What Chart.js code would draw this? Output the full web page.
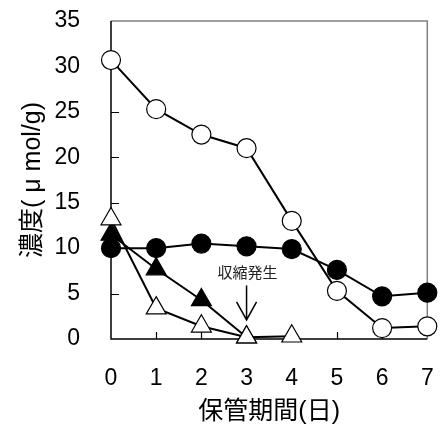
<!DOCTYPE html>
<html><head><meta charset="utf-8">
<script src="https://cdn.jsdelivr.net/npm/chart.js@4"></script>
<style>html,body{margin:0;padding:0;background:#fff}#wrap{width:440px;height:426px}</style>
</head><body><div id="wrap"><canvas id="c" width="440" height="426"></canvas></div>
<script>
const days = [0, 1, 2, 3, 4, 5, 6, 7];
const openCircle = [30.7, 25.3, 22.5, 21.0, 13.0, 5.3, 1.2, 1.4];
const filledCircle = [10.0, 10.0, 10.5, 10.2, 9.9, 7.6, 4.7, 5.1];
const filledTriangle = [11.5, 7.7, 4.3, 0.2];
const openTriangle = [13.2, 3.4, 1.4, 0.2, 0.3];
const yTickValues = [0, 5, 10, 15, 20, 25, 30, 35];
const xTickValues = [0, 1, 2, 3, 4, 5, 6, 7];
const yTitle = '濃度( μ mol/g)';
const xTitle = '保管期間(日)';
const note = { text: '収縮発生', x: 3, textY: 7.3, arrowFrom: 5.9, arrowTo: 2.1 };

const FONT = "'Liberation Sans', 'Noto Sans CJK JP', Arial, sans-serif";
const toPts = (arr) => arr.map((v, i) => ({ x: days[i], y: v }));

function ds(data, style, fill, radius) {
  return {
    data: toPts(data),
    borderColor: '#000', borderWidth: 2,
    pointStyle: style, pointRadius: radius,
    pointBackgroundColor: fill, pointBorderColor: '#000', pointBorderWidth: 1.2,
    tension: 0, clip: false
  };
}

const framePlugin = {
  id: 'frame',
  beforeDatasetsDraw(chart) {
    const { ctx, chartArea: a, scales } = chart;
    ctx.save();
    ctx.lineWidth = 1.5;
    ctx.strokeStyle = '#808080';
    ctx.beginPath();
    ctx.moveTo(a.left, a.top); ctx.lineTo(a.right, a.top); ctx.lineTo(a.right, a.bottom);
    ctx.stroke();
    ctx.strokeStyle = '#000';
    ctx.beginPath();
    ctx.moveTo(a.left, a.top); ctx.lineTo(a.left, a.bottom); ctx.lineTo(a.right, a.bottom);
    ctx.stroke();
    ctx.lineWidth = 1.2;
    ctx.beginPath();
    yTickValues.forEach(v => {
      if (v === 0 || v === 35) return;
      const y = Math.round(scales.y.getPixelForValue(v)) + 0.5;
      ctx.moveTo(a.left, y); ctx.lineTo(a.left + 8, y);
    });
    xTickValues.forEach(v => {
      if (v === 0 || v === 7) return;
      const x = Math.round(scales.x.getPixelForValue(v)) + 0.5;
      ctx.moveTo(x, a.bottom); ctx.lineTo(x, a.bottom - 7);
    });
    ctx.stroke();
    ctx.restore();
  },
  afterDatasetsDraw(chart) {
    const { ctx, scales } = chart;
    const x = scales.x.getPixelForValue(note.x);
    ctx.save();
    ctx.fillStyle = '#222';
    ctx.font = "15px 'Noto Sans CJK JP', sans-serif";
    ctx.textAlign = 'center';
    ctx.textBaseline = 'middle';
    ctx.fillText(note.text, x + 1, scales.y.getPixelForValue(note.textY));
    const y0 = scales.y.getPixelForValue(note.arrowFrom);
    const y1 = scales.y.getPixelForValue(note.arrowTo);
    ctx.strokeStyle = '#000';
    ctx.lineWidth = 1.5;
    ctx.beginPath();
    ctx.moveTo(x, y0); ctx.lineTo(x, y1);
    ctx.moveTo(x - 10, y1 - 18); ctx.lineTo(x, y1); ctx.lineTo(x + 10, y1 - 18);
    ctx.stroke();
    ctx.restore();
  }
};

new Chart(document.getElementById('c'), {
  type: 'line',
  data: {
    datasets: [
      ds(openTriangle, 'triangle', '#fff', 11.5),
      ds(filledTriangle, 'triangle', '#000', 11.5),
      ds(openCircle, 'circle', '#fff', 9.5),
      ds(filledCircle, 'circle', '#000', 9.5)
    ]
  },
  options: {
    responsive: false, animation: false, devicePixelRatio: 1,
    layout: { padding: { top: 21, right: 9, left: 0, bottom: 0 } },
    plugins: { legend: { display: false }, tooltip: { enabled: false } },
    scales: {
      x: {
        type: 'linear', min: 0, max: 7,
        grid: { display: false }, border: { display: false },
        afterBuildTicks: (s) => { s.ticks = xTickValues.map(v => ({ value: v })); },
        afterFit: (s) => { s.height = 87; s.paddingLeft = 0; s.paddingRight = 0; },
        ticks: { color: '#000', font: { family: FONT, size: 23 }, padding: 18, maxRotation: 0, autoSkip: false },
        title: { display: true, text: xTitle, color: '#000', font: { family: FONT, size: 25, lineHeight: 1.1 }, padding: { top: 0, bottom: 0 } }
      },
      y: {
        min: 0, max: 35,
        grid: { display: false }, border: { display: false },
        afterBuildTicks: (s) => { s.ticks = yTickValues.map(v => ({ value: v })); },
        afterFit: (s) => { s.width = 111; s.paddingTop = 0; s.paddingBottom = 0; },
        ticks: { color: '#000', font: { family: FONT, size: 23 }, padding: 23 },
        title: { display: true, text: yTitle, color: '#000', font: { family: FONT, size: 25, lineHeight: 1.2 }, padding: { top: 18, bottom: 0 } }
      }
    }
  },
  plugins: [framePlugin]
});
</script></body></html>
